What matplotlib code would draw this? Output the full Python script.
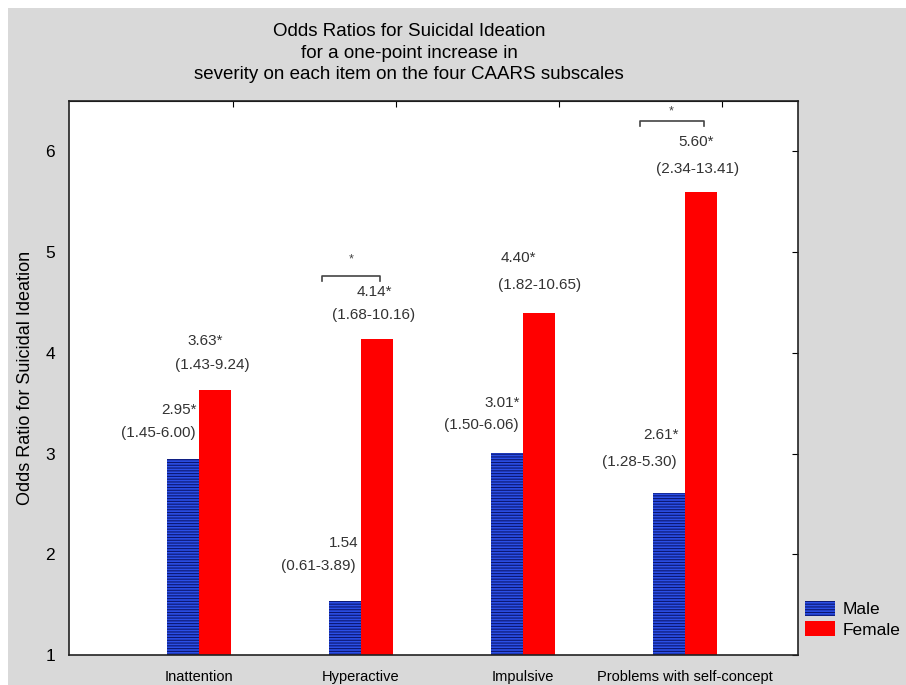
#!/usr/bin/env python3
"""Odds ratios for suicidal ideation by CAARS subscale, male vs female."""

import matplotlib

matplotlib.use("Agg")
import matplotlib.pyplot as plt
import numpy as np
from matplotlib.patches import Rectangle

plt.rcParams["font.family"] = ["Liberation Sans", "DejaVu Sans"]
plt.rcParams["hatch.linewidth"] = 0.8

subscales = ["Inattention", "Hyperactive", "Impulsive", "Problems with self-concept"]
male_or = [2.95, 1.54, 3.01, 2.61]
female_or = [3.63, 4.14, 4.40, 5.60]
male_ci = ["(1.45-6.00)", "(0.61-3.89)", "(1.50-6.06)", "(1.28-5.30)"]
female_ci = ["(1.43-9.24)", "(1.68-10.16)", "(1.82-10.65)", "(2.34-13.41)"]
male_sig = [True, False, True, True]
female_sig = [True, True, True, True]
# subscales where male and female differ significantly
sex_diff = [False, True, False, True]

# label placement (x, y) for value line and CI line, in data units
male_val_pos = [(-0.12, 3.43), (0.895, 2.11), (1.87, 3.50), (2.85, 3.18)]
male_ci_pos = [(-0.25, 3.20), (0.735, 1.88), (1.745, 3.28), (2.72, 2.92)]
female_val_pos = [(0.04, 4.12), (1.085, 4.60), (1.975, 4.94), (3.07, 6.09)]
female_ci_pos = [(0.085, 3.88), (1.08, 4.38), (2.10, 4.67), (3.08, 5.82)]
bracket_span = [None, (0.76, 1.12), None, (2.72, 3.115)]
bracket_y = [None, 4.76, None, 6.30]
star_y = [None, 4.93, None, 6.40]

fig = plt.figure(figsize=(9.06, 6.85), dpi=100, facecolor="white")
fig.patches.append(
    Rectangle((8 / 906, 0), 1, 1 - 8 / 685, transform=fig.transFigure,
              facecolor="#d9d9d9", edgecolor="none", zorder=-10)
)

ax = fig.add_axes([69 / 906, 30 / 685, 729 / 906, 554 / 685])
x = np.arange(len(subscales))
w = 0.2

ax.bar(x - w / 2, male_or, width=w, bottom=0, color="#2b4fe6",
       edgecolor="#0b1670", linewidth=0, hatch="------", label="Male")
ax.bar(x + w / 2, female_or, width=w, bottom=0, color="#ff0000",
       linewidth=0, label="Female")

ax.set_xlim(-0.802, 3.698)
ax.set_ylim(1, 6.5)
ax.set_yticks([1, 2, 3, 4, 5, 6])
ax.set_xticks(x)
ax.set_xticklabels(subscales, fontsize=10.5)
ax.tick_params(axis="x", length=0, pad=11)
ax.tick_params(axis="y", left=False, right=True, direction="in",
               length=4, labelsize=12.5, pad=10)
for s in ax.spines.values():
    s.set_linewidth(1.2)
    s.set_color("#222222")

top = ax.secondary_xaxis("top")
top.set_xticks([0.21, 1.216, 2.22, 3.23])
top.set_xticklabels([])
top.tick_params(direction="in", length=4)

ax.set_ylabel("Odds Ratio for Suicidal Ideation", fontsize=13, labelpad=8)

fs = 11
for i in range(len(subscales)):
    mv = f"{male_or[i]:.2f}" + ("*" if male_sig[i] else "")
    fv = f"{female_or[i]:.2f}" + ("*" if female_sig[i] else "")
    ax.text(*male_val_pos[i], mv, ha="center", va="center", fontsize=fs, color="#333333")
    ax.text(*male_ci_pos[i], male_ci[i], ha="center", va="center", fontsize=fs, color="#333333")
    ax.text(*female_val_pos[i], fv, ha="center", va="center", fontsize=fs, color="#333333")
    ax.text(*female_ci_pos[i], female_ci[i], ha="center", va="center", fontsize=fs, color="#333333")
    if sex_diff[i]:
        x0, x1 = bracket_span[i]
        yb = bracket_y[i]
        ax.plot([x0, x0, x1, x1], [yb - 0.05, yb, yb, yb - 0.05],
                color="#444444", linewidth=1.2)
        ax.text((x0 + x1) / 2, star_y[i], "*", ha="center", va="center",
                fontsize=9, color="#444444")

fig.text(409 / 906, 1 - 53 / 685,
         "Odds Ratios for Suicidal Ideation\nfor a one-point increase in\n"
         "severity on each item on the four CAARS subscales",
         ha="center", va="center", fontsize=13.5, linespacing=1.35)

fig.legend(loc="upper left", bbox_to_anchor=(796 / 906, 1 - 592 / 685),
           frameon=False, fontsize=12.5, handlelength=1.75, handleheight=1.0,
           handletextpad=0.45, labelspacing=0.2, borderpad=0)

fig.savefig("out.png", dpi=100, facecolor=fig.get_facecolor())
